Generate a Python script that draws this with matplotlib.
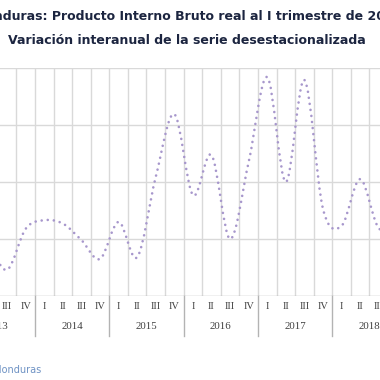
import numpy as np
import matplotlib
matplotlib.use("Agg")
import matplotlib.pyplot as plt
from matplotlib.path import Path
from matplotlib.patches import PathPatch
import matplotlib.transforms as mtransforms

# Datos trimestrales (variación interanual, %), desde 2013 I
anios = ["2013", "2014", "2015", "2016", "2017", "2018"]
trimestres = ["I", "II", "III", "IV"]
variacion = [3.20, 2.90, 2.46, 3.18, 3.33, 3.27, 2.98, 2.65,
             3.30, 2.68, 4.09, 5.19, 3.77, 4.47, 3.00, 4.35,
             5.84, 4.00, 5.79, 3.53, 3.23, 4.05, 3.19, 3.30]

titulo1 = "Honduras: Producto Interno Bruto real al I trimestre de 2019"
titulo2 = "Variación interanual de la serie desestacionalizada"
fuente = "Fuente: Banco Central de Honduras"

color_serie = "#a797cc"
color_grid = "#d9d9d9"
color_eje = "#b3b3b3"


def curva_suave(xs, ys):
    # Curva tipo Excel "línea suavizada" (Catmull-Rom como Bezier cúbica)
    pts = np.column_stack([xs, ys]).astype(float)
    verts = [pts[0]]
    codes = [Path.MOVETO]
    n = len(pts)
    for k in range(n - 1):
        p0 = pts[k - 1] if k > 0 else pts[k]
        p1 = pts[k]
        p2 = pts[k + 1]
        p3 = pts[k + 2] if k + 2 < n else pts[k + 1]
        c1 = p1 + (p2 - p0) / 6.0
        c2 = p2 - (p3 - p1) / 6.0
        verts += [c1, c2, p2]
        codes += [Path.CURVE4] * 3
    return Path(verts, codes)


fig = plt.figure(figsize=(3.8, 3.8), dpi=100)
ax = fig.add_axes([0.0, 1 - 296 / 380, 1.0, 228 / 380])

x = np.arange(len(variacion))
patch = PathPatch(curva_suave(x, variacion), facecolor="none",
                  edgecolor=color_serie, linewidth=1.9,
                  linestyle=(0, (0.01, 2.3)), capstyle="round", zorder=3)
ax.add_patch(patch)

# cuadrícula
for b in np.arange(-0.5, len(variacion) + 0.5, 1):
    ax.axvline(b, color=color_grid, lw=1.0, zorder=1)
for v in [3, 4, 5, 6]:
    ax.axhline(v, color=color_grid, lw=1.0, zorder=1)
ax.axhline(2, color=color_eje, lw=1.0, zorder=2)

for s in ax.spines.values():
    s.set_visible(False)

# etiquetas jerárquicas del eje x
ax.set_yticks([])
ax.set_xticks(x)
ax.set_xticklabels([trimestres[i % 4] for i in x], family="Liberation Serif",
                   fontsize=7.5, color="#404040")
ax.tick_params(axis="x", length=0, pad=4)

tr = mtransforms.blended_transform_factory(ax.transData, ax.transAxes)
for j, anio in enumerate(anios):
    ax.text(4 * j + 1.5, -0.132, anio, transform=tr, ha="center", va="center",
            family="Liberation Serif", fontsize=7.8, color="#404040", clip_on=False)
    ax.plot([4 * j - 0.5, 4 * j - 0.5], [0, -0.175], transform=tr,
            color=color_eje, lw=1.0, clip_on=False)

ax.set_xlim(1.616, 22.07)
ax.set_ylim(2, 6)

fig.text(0.497, 1 - 16 / 380, titulo1, ha="center", va="center",
         family="DejaVu Sans", fontweight="bold", fontsize=9.0, color="#1c2540")
fig.text(0.492, 1 - 40 / 380, titulo2, ha="center", va="center",
         family="DejaVu Sans", fontweight="bold", fontsize=9.0, color="#1c2540")
fig.text(41 / 380, 1 - 370 / 380, fuente, ha="right", va="center",
         family="DejaVu Sans", fontsize=7, color="#6f93c4")

fig.savefig("out.png", dpi=100)
